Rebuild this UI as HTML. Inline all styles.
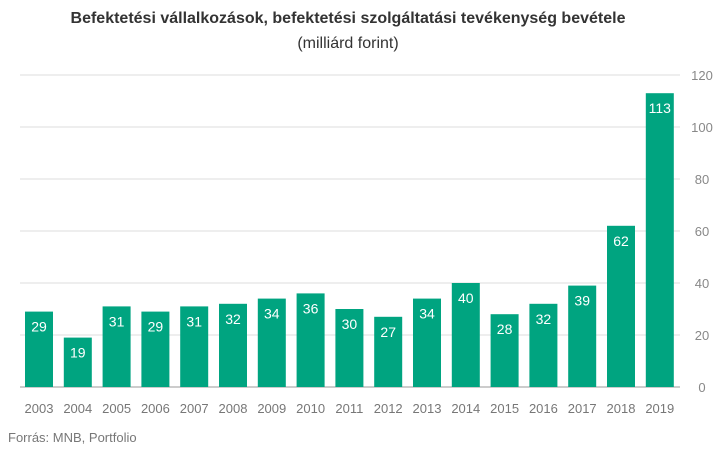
<!DOCTYPE html>
<html><head><meta charset="utf-8"><style>
body{margin:0;background:#fff;font-family:"Liberation Sans",sans-serif}
</style></head><body>
<svg width="719" height="450" xmlns="http://www.w3.org/2000/svg">
<text x="348" y="23" text-anchor="middle" font-size="16" font-weight="bold" fill="#333">Befektetési vállalkozások, befektetési szolgáltatási tevékenység bevétele</text>
<text x="348" y="48" text-anchor="middle" font-size="16" fill="#333">(milliárd forint)</text>
<g id="grid"></g><g id="bars"></g><g id="xl"></g>
<text x="8" y="442" font-size="13" fill="#777">Forrás: MNB, Portfolio</text>
</svg>
<script>
const categories=["2003","2004","2005","2006","2007","2008","2009","2010","2011","2012","2013","2014","2015","2016","2017","2018","2019"];
const values=[29,19,31,29,31,32,34,36,30,27,34,40,28,32,39,62,113];
const yTicks=[0,20,40,60,80,100,120];
const NS="http://www.w3.org/2000/svg";
const y0=387,pxPer=2.6,x0=20,x1=680,step=38.8,bw=28;
const y=v=>y0-v*pxPer, xc=i=>39+i*step;
function mk(t,a,p){const e=document.createElementNS(NS,t);for(const k in a)e.setAttribute(k,a[k]);p.appendChild(e);return e;}
const g=document.getElementById('grid'),b=document.getElementById('bars'),xl=document.getElementById('xl');
yTicks.forEach(v=>{
 const l=mk('line',{x1:x0,x2:x1,y1:y(v),y2:y(v),stroke:v===0?'#999':'#ddd','stroke-width':1},g);
 
 
 const t=mk('text',{x:702,y:y(v)+5,'text-anchor':'middle','font-size':13,fill:'#888'},g);
 t.textContent=v;
 
 
});
categories.forEach((c,i)=>{
 const r=mk('rect',{x:xc(i)-bw/2,y:y(values[i]),width:bw,height:values[i]*pxPer,fill:'#00a480'},b);
 
 
 const t=mk('text',{x:xc(i),y:y(values[i])+20,'text-anchor':'middle','font-size':14,fill:'#fff'},b);
 t.textContent=values[i];
 
 
 const xt=mk('text',{x:xc(i),y:413,'text-anchor':'middle','font-size':13,fill:'#777'},xl);
 xt.textContent=c;
 
 
});
</script>
</body></html>
